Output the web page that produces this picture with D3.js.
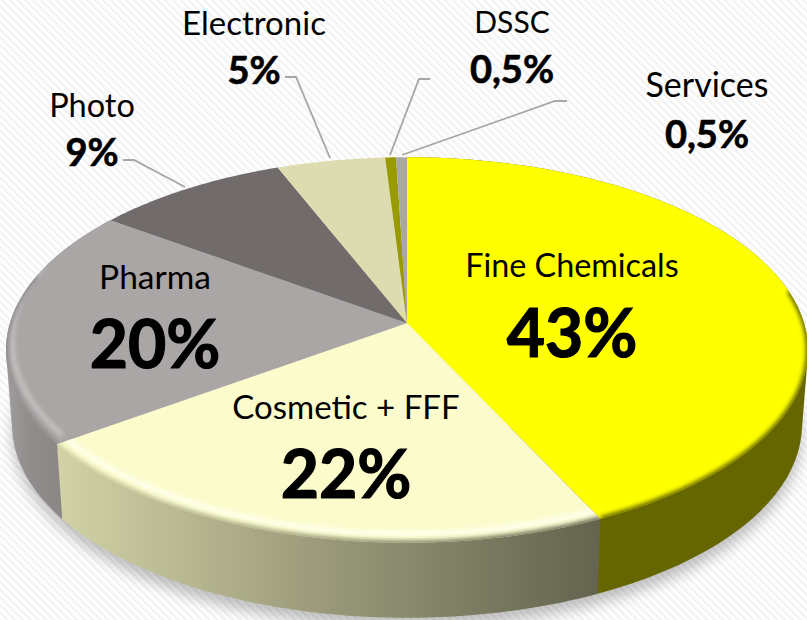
<!DOCTYPE html>
<html>
<head>
<meta charset="utf-8">
<script src="https://cdn.jsdelivr.net/npm/d3@7"></script>
<style>
  html, body { margin: 0; padding: 0; background: #fff; }
  svg { display: block; font-family: Lato, "Open Sans", sans-serif; }
</style>
</head>
<body>
<svg width="807" height="620"></svg>
<script>
var categories = ["Fine Chemicals", "Cosmetic + FFF", "Pharma", "Photo", "Electronic", "DSSC", "Services"];
var values = [43, 22, 20, 9, 5, 0.5, 0.5];
var valueLabels = ["43%", "22%", "20%", "9%", "5%", "0,5%", "0,5%"];
var topColors = ["#ffff00", "#fbfbcc", "#aaa6a6", "#716b6b", "#dddcb0", "#999900", "#a9a6a6"];
var wallColors = ["#666600", "url(#wallCosmetic)", "url(#wallPharma)"];

var width = 807, height = 620;
var svg = d3.select("svg");

// the disc is seen in perspective, so the apex sits above the middle of the ellipse
var cx = 407, cy = 323, depth = 75;
var scaleX = 397, scaleY = 189, tilt = 0.14;

function project(angle, r, drop) {
    var w = 1 + tilt * r * Math.cos(angle);
    var shrink = drop ? 0.985 : 1;
    return [
        cx + shrink * scaleX * r * Math.sin(angle) / w,
        cy - scaleY * r * Math.cos(angle) / w + (drop || 0)
    ];
}

function arcPoints(a0, a1, r, drop) {
    return d3.range(0, 61).map(function(i) {
        return project(a0 + (a1 - a0) * i / 60, r, drop);
    });
}

var line = d3.line();

var slices = d3.pie().sort(null)(values);

var defs = svg.append("defs");

// faint diagonal background stripes
var hatch = defs.append("pattern")
    .attr("id", "hatch")
    .attr("width", 5.5).attr("height", 5.5)
    .attr("patternUnits", "userSpaceOnUse")
    .attr("patternTransform", "rotate(-45)");
hatch.append("rect").attr("width", 5.5).attr("height", 5.5).attr("fill", "#fff");
hatch.append("rect").attr("width", 2.5).attr("height", 5.5).attr("fill", "#f3f3f3");

var wallCosmetic = defs.append("linearGradient")
    .attr("id", "wallCosmetic")
    .attr("gradientUnits", "userSpaceOnUse")
    .attr("x1", 60).attr("x2", 598).attr("y1", 0).attr("y2", 0);
wallCosmetic.append("stop").attr("offset", "0").attr("stop-color", "#d2d2a6");
wallCosmetic.append("stop").attr("offset", "0.55").attr("stop-color", "#939375");
wallCosmetic.append("stop").attr("offset", "1").attr("stop-color", "#64644f");

var wallPharma = defs.append("linearGradient")
    .attr("id", "wallPharma")
    .attr("gradientUnits", "userSpaceOnUse")
    .attr("x1", 6).attr("x2", 62).attr("y1", 0).attr("y2", 0);
wallPharma.append("stop").attr("offset", "0").attr("stop-color", "#a09d9d");
wallPharma.append("stop").attr("offset", "0.4").attr("stop-color", "#918d8d");
wallPharma.append("stop").attr("offset", "1").attr("stop-color", "#8b8787");

defs.append("filter").attr("id", "soft").attr("x", "-10%").attr("y", "-10%").attr("width", "120%").attr("height", "120%")
    .append("feGaussianBlur").attr("stdDeviation", 2);
defs.append("filter").attr("id", "shadowBlur").attr("x", "-10%").attr("y", "-10%").attr("width", "120%").attr("height", "120%")
    .append("feGaussianBlur").attr("stdDeviation", 7);

svg.append("rect").attr("width", width).attr("height", height).attr("fill", "url(#hatch)");

// shadow under the disc
svg.append("path")
    .attr("d", line(arcPoints(0, 2 * Math.PI, 1, depth + 10)) + "Z")
    .attr("fill", "#000")
    .attr("opacity", 0.24)
    .attr("filter", "url(#shadowBlur)");

// walls first, the top faces paint over the back part.
// Cosmetic goes last because the hulls of its neighbours overlap it
svg.append("g").selectAll("path")
    .data([slices[0], slices[2], slices[1]])
    .enter().append("path")
    .attr("d", function(d) {
        var upper = arcPoints(d.startAngle, d.endAngle, 1, 0);
        var lower = arcPoints(d.startAngle, d.endAngle, 1, depth);
        return line(d3.polygonHull(upper.concat(lower))) + "Z";
    })
    .attr("fill", function(d) { return wallColors[d.index]; });

function facePath(d) {
    var apex = [[cx, cy]];
    return line(apex.concat(arcPoints(d.startAngle, d.endAngle, 1, 0))) + "Z";
}

slices.forEach(function(d, i) {
    defs.append("clipPath").attr("id", "clip" + i).append("path").attr("d", facePath(d));
});

svg.append("g").selectAll("path")
    .data(slices)
    .enter().append("path")
    .attr("d", facePath)
    .attr("fill", function(d, i) { return topColors[i]; });

// bevel along the rim of the three front slices, it fades out towards the back
var rimLight = [null, "#ffffee", "#c4c1c1"];
var rimDark = ["#666600", "url(#wallCosmetic)", "#8f8b8b"];
var rimFrom = [80, 154.8, 234];
var rimTo = [154.8, 234, 285];
var bevel = svg.append("g");
slices.slice(0, 3).forEach(function(d, i) {
    var a0 = rimFrom[i] * Math.PI / 180, a1 = rimTo[i] * Math.PI / 180;
    var g = bevel.append("g").attr("clip-path", "url(#clip" + i + ")");
    if (rimLight[i]) {
        g.append("path")
            .attr("d", line(arcPoints(a0, a1, 1, -9)))
            .attr("fill", "none")
            .attr("stroke", rimLight[i])
            .attr("stroke-width", 5)
            .attr("filter", "url(#soft)");
    }
    g.append("path")
        .attr("d", line(arcPoints(a0, a1, 1.002, 0)))
        .attr("fill", "none")
        .attr("stroke", rimDark[i])
        .attr("stroke-width", 6)
        .attr("filter", "url(#soft)");
});

// leader lines of the outside labels
var leaderData = [
    { i: 3, pts: [[123, 160], [134, 160], [185, 187]] },
    { i: 4, pts: [[285, 77], [296, 77], [330, 158]] },
    { i: 5, pts: [[430, 79], [419, 79], [390, 155]] },
    { i: 6, pts: [[567, 101], [555, 101], [402, 155]] }
];
svg.append("g").selectAll("path")
    .data(leaderData)
    .enter().append("path")
    .attr("d", function(d) { return line(d.pts); })
    .attr("fill", "none")
    .attr("stroke", "#a6a6a6")
    .attr("stroke-width", 1.8);

// label placement: [x, name y, value y, name size, value size, value thickening]
var labelPos = [
    [572, 277, 357, 32.3, 66, 1.2],
    [346, 419, 498, 33, 66, 1.2],
    [155, 289, 368, 33.5, 66, 1.2],
    [92, 117, 166, 32.5, 38, 0.6],
    [254, 35, 84, 33, 38, 0.6],
    [512, 33, 83, 30, 38, 0.6],
    [707, 97, 148, 34, 38, 0.6]
];

var labels = svg.append("g").attr("text-anchor", "middle").attr("fill", "#000");
categories.forEach(function(name, i) {
    var p = labelPos[i];
    labels.append("text").attr("x", p[0]).attr("y", p[1])
        .attr("font-size", p[3]).text(name);
    labels.append("text").attr("x", p[0]).attr("y", p[2])
        .attr("font-size", p[4]).attr("font-weight", 700)
        .attr("stroke", "#000").attr("stroke-width", p[5])
        .text(valueLabels[i]);
});
</script>
</body>
</html>
